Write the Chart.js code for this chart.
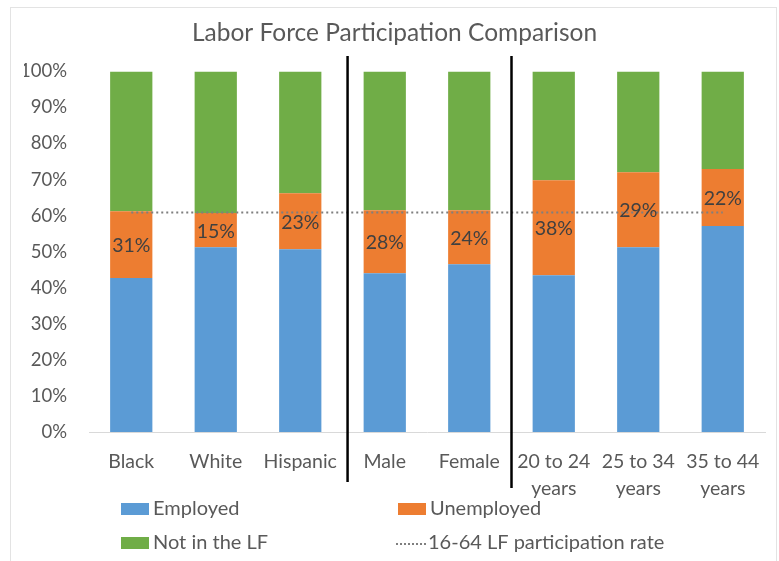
<!DOCTYPE html>
<html>
<head>
<meta charset="utf-8">
<script src="https://cdn.jsdelivr.net/npm/chart.js@4.4.1/dist/chart.umd.min.js"></script>
<style>
  html, body { margin: 0; padding: 0; background: #fff; }
  #wrap { width: 779px; height: 561px; position: relative; }
</style>
</head>
<body>
<div id="wrap"><canvas id="chart"></canvas></div>
<script>
// --- data ---
const categories = ['Black', 'White', 'Hispanic', 'Male', 'Female',
    ['20 to 24', 'years'], ['25 to 34', 'years'], ['35 to 44', 'years']];
const employed   = [42.7, 51.2, 50.7, 44.0, 46.5, 43.5, 51.2, 57.1];
const unemployed = [18.5,  9.5, 15.5, 17.5, 15.0, 26.3, 20.8, 15.8];
const notInLF    = [38.8, 39.3, 33.8, 38.5, 38.5, 30.2, 28.0, 27.1];
const participationRate = [60.9, 60.9, 60.9, 60.9, 60.9, 60.9, 60.9, 60.9];
const unemploymentLabels = ['31%', '15%', '23%', '28%', '24%', '38%', '29%', '22%'];
const yTicks = [0, 10, 20, 30, 40, 50, 60, 70, 80, 90, 100];
// group separators sit between these category indexes
const separatorsAt = [2.56, 4.5];

const FONT = 'Lato, "Open Sans", sans-serif';
const TEXT = '#595959';
const BLUE = '#5B9BD5', ORANGE = '#ED7D31', GREEN = '#70AD47', DOT = '#7F7F7F';

const extras = {
    id: 'extras',
    beforeDraw(chart) {
        const ctx = chart.ctx;
        ctx.save();
        ctx.fillStyle = '#fff';
        ctx.fillRect(0, 0, chart.width, chart.height);
        ctx.strokeStyle = '#e3e3e3';
        ctx.lineWidth = 1;
        ctx.strokeRect(10.5, 7.5, 766, 560);
        ctx.restore();
    },
    afterDatasetsDraw(chart) {
        const ctx = chart.ctx;
        const x = chart.scales.x;
        ctx.save();
        // labels on the unemployed segments
        const meta = chart.getDatasetMeta(1);
        ctx.fillStyle = '#404040';
        ctx.font = '19.5px ' + FONT;
        ctx.textAlign = 'center';
        ctx.textBaseline = 'middle';
        meta.data.forEach((bar, i) => {
            ctx.fillText(unemploymentLabels[i], bar.x, (bar.y + bar.base) / 2 + 1);
        });
        // vertical group separators
        ctx.strokeStyle = '#000';
        ctx.lineWidth = 2.5;
        const bottoms = [482, 488];
        separatorsAt.forEach((v, i) => {
            const px = x.getPixelForValue(v);
            ctx.beginPath();
            ctx.moveTo(px, 56);
            ctx.lineTo(px, bottoms[i]);
            ctx.stroke();
        });
        ctx.restore();
    },
    afterDraw(chart) {
        // legend laid out as a 2 x 2 grid like the original
        const ctx = chart.ctx;
        ctx.save();
        ctx.font = '20px ' + FONT;
        ctx.textBaseline = 'middle';
        ctx.textAlign = 'left';
        const items = [
            { label: chart.data.datasets[0].label, color: BLUE, x: 121, y: 509 },
            { label: chart.data.datasets[1].label, color: ORANGE, x: 398, y: 509 },
            { label: chart.data.datasets[2].label, color: GREEN, x: 121, y: 543 },
            { label: chart.data.datasets[3].label, dotted: true, x: 396, y: 543 }
        ];
        items.forEach(it => {
            if (it.dotted) {
                ctx.strokeStyle = DOT;
                ctx.lineWidth = 2;
                ctx.setLineDash([2, 2]);
                ctx.beginPath();
                ctx.moveTo(it.x, it.y + 1);
                ctx.lineTo(it.x + 31, it.y + 1);
                ctx.stroke();
                ctx.setLineDash([]);
            } else {
                ctx.fillStyle = it.color;
                ctx.fillRect(it.x, it.y - 6, 28, 12);
            }
            ctx.fillStyle = TEXT;
            ctx.fillText(it.label, it.x + 32, it.y);
        });
        ctx.restore();
    }
};

const chart = new Chart(document.getElementById('chart'), {
    data: {
        labels: categories,
        datasets: [
            { type: 'bar', label: 'Employed', data: employed, backgroundColor: BLUE, stack: 'lf', order: 1 },
            { type: 'bar', label: 'Unemployed', data: unemployed, backgroundColor: ORANGE, stack: 'lf', order: 1 },
            { type: 'bar', label: 'Not in the LF', data: notInLF, backgroundColor: GREEN, stack: 'lf', order: 1 },
            {
                type: 'line', label: '16-64 LF participation rate', data: participationRate,
                borderColor: DOT, borderWidth: 2, borderDash: [2, 3], pointRadius: 0,
                fill: false, stack: 'rate', order: 0
            }
        ]
    },
    options: {
        responsive: true,
        maintainAspectRatio: false,
        animation: false,
        events: [],
        layout: { padding: { left: 24, right: 14, top: 0, bottom: 0 } },
        datasets: { bar: { categoryPercentage: 1.0, barPercentage: 0.5 } },
        scales: {
            x: {
                stacked: true,
                grid: { display: false, drawTicks: false },
                border: { display: true, color: '#d9d9d9', width: 1 },
                ticks: { color: TEXT, font: { family: FONT, size: 19.5, lineHeight: 1.38 }, padding: 16, maxRotation: 0, autoSkip: false },
                afterFit(scale) { scale.height = 129; }
            },
            y: {
                stacked: true,
                min: 0,
                max: 100,
                grid: { display: false, drawTicks: false },
                border: { display: false },
                afterBuildTicks(scale) { scale.ticks = yTicks.map(v => ({ value: v })); },
                ticks: { color: TEXT, font: { family: FONT, size: 18.5 }, padding: 22, callback: v => v + '%' },
                afterFit(scale) { scale.width = 65; }
            }
        },
        plugins: {
            legend: { display: false },
            tooltip: { enabled: false },
            title: {
                display: true,
                text: 'Labor Force Participation Comparison',
                color: TEXT,
                font: { family: FONT, size: 24.5, weight: 'normal' },
                padding: { top: 18, bottom: 24 }
            }
        }
    },
    plugins: [extras]
});
</script>
</body>
</html>
